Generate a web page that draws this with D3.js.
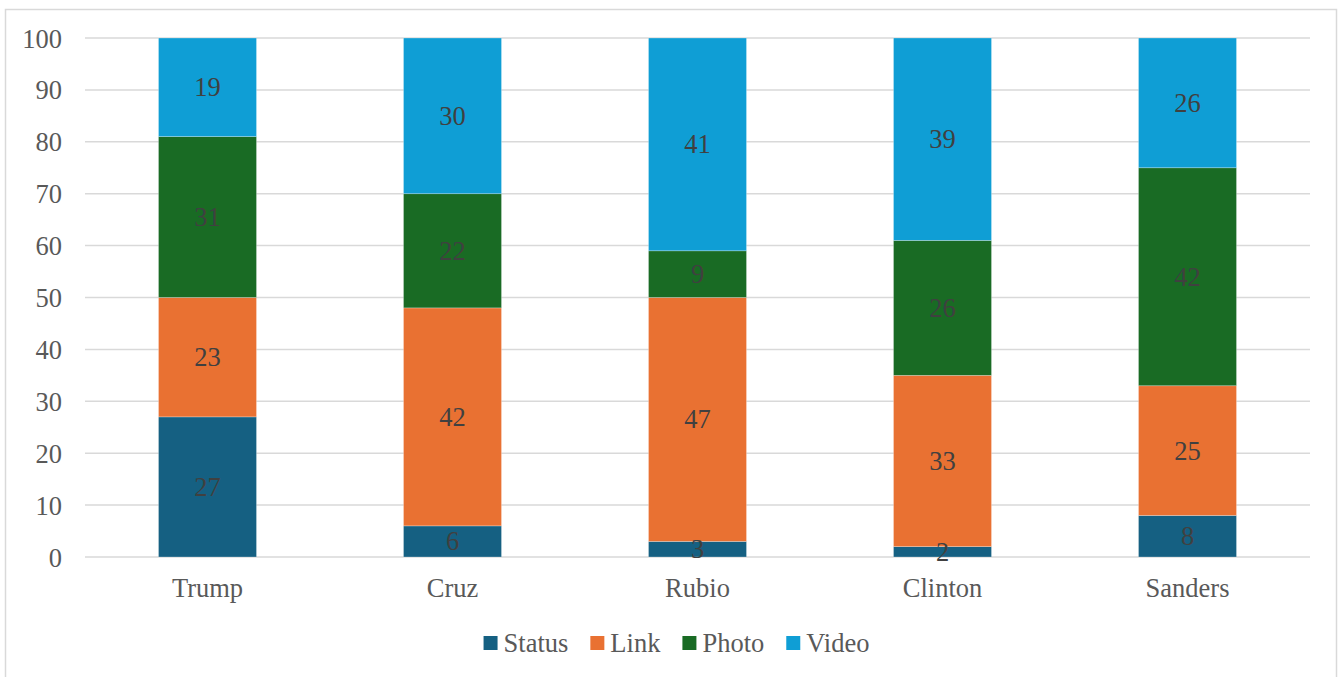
<!DOCTYPE html>
<html>
<head>
<meta charset="utf-8">
<script src="https://cdn.jsdelivr.net/npm/d3@7"></script>
<style>
  html, body { margin: 0; padding: 0; background: #fff; overflow: hidden; }
  svg { display: block; }
  text { font-family: "Liberation Serif", "Times New Roman", serif; }
</style>
</head>
<body>
<svg id="chart" width="1342" height="677"></svg>
<script>
const categories = ["Trump", "Cruz", "Rubio", "Clinton", "Sanders"];
const seriesNames = ["Status", "Link", "Photo", "Video"];
const statusValues = [27, 6, 3, 2, 8];
const linkValues = [23, 42, 47, 33, 25];
const photoValues = [31, 22, 9, 26, 42];
const videoValues = [19, 30, 41, 39, 26];
const yTicks = [0, 10, 20, 30, 40, 50, 60, 70, 80, 90, 100];
const colors = ["#156082", "#E97132", "#196B24", "#0F9ED5"];

const seriesValues = [statusValues, linkValues, photoValues, videoValues];
const rows = categories.map((c, i) => {
  const r = { category: c };
  seriesNames.forEach((s, j) => r[s] = seriesValues[j][i]);
  return r;
});

const FS = 26.5;
const svg = d3.select("#chart");
const mLeft = 85, mRight = 1310, mTop = 38, mBottom = 557;

// chart frame
svg.append("rect").attr("x", 5.5).attr("y", 9.5).attr("width", 1331).attr("height", 680)
  .attr("fill", "#fff").attr("stroke", "#d9d9d9").attr("stroke-width", 1.5);

const x = d3.scaleBand().domain(categories).range([mLeft, mRight]).paddingInner(0.6).paddingOuter(0.3);
const y = d3.scaleLinear().domain([0, 100]).range([mBottom, mTop]).clamp(true);

// gridlines
svg.append("g").selectAll("line").data(yTicks).join("line")
  .attr("x1", mLeft).attr("x2", mRight)
  .attr("y1", d => y(d)).attr("y2", d => y(d))
  .attr("stroke", "#d9d9d9").attr("stroke-width", 1.5);

// y axis labels
const yAxis = d3.axisLeft(y).tickValues(yTicks).tickSize(0).tickPadding(0);
const yg = svg.append("g").attr("transform", `translate(${mLeft - 23},0)`).call(yAxis);
yg.select(".domain").remove();
yg.selectAll("text").attr("font-size", FS).attr("fill", "#595959")
  .attr("font-family", "Liberation Serif, serif").attr("dy", "0.34em");

// stacked bars
const stack = d3.stack().keys(seriesNames)(rows);
const layers = svg.append("g").selectAll("g").data(stack).join("g")
  .attr("fill", (d, i) => colors[i]);
layers.selectAll("rect").data(d => d).join("rect")
  .attr("x", d => x(d.data.category))
  .attr("width", x.bandwidth())
  .attr("y", d => y(d[1]))
  .attr("height", d => y(d[0]) - y(d[1]))
  .attr("stroke", "rgba(255,255,255,0.35)").attr("stroke-width", 0.75);

// data labels
const lab = svg.append("g");
stack.forEach((layer) => {
  layer.forEach(d => {
    lab.append("text")
      .attr("x", x(d.data.category) + x.bandwidth() / 2)
      .attr("y", (y(d[0]) + y(d[1])) / 2)
      .attr("dy", "0.34em")
      .attr("text-anchor", "middle")
      .attr("font-size", FS)
      .attr("fill", "#404040")
      .text(d[1] - d[0]);
  });
});

// x axis labels
const xAxis = d3.axisBottom(x).tickSize(0).tickPadding(0);
const xg = svg.append("g").attr("transform", `translate(0,${mBottom + 31})`).call(xAxis);
xg.select(".domain").remove();
xg.selectAll("text").attr("font-size", FS).attr("fill", "#595959")
  .attr("font-family", "Liberation Serif, serif").attr("dy", "0.34em");

// legend
const legend = svg.append("g");
const ly = 643;
let cx = 0;
seriesNames.forEach((s, i) => {
  const g = legend.append("g");
  g.append("rect").attr("x", 0).attr("y", ly - 7).attr("width", 14).attr("height", 14).attr("fill", colors[i]);
  const t = g.append("text").attr("x", 20).attr("y", ly).attr("dy", "0.34em")
    .attr("font-size", FS).attr("fill", "#595959").text(s);
  const w = 20 + t.node().getComputedTextLength();
  g.attr("transform", `translate(${cx},0)`);
  cx += w + 22;
});
const totalW = cx - 22;
legend.attr("transform", `translate(${676.5 - totalW / 2},0)`);
</script>
</body>
</html>
